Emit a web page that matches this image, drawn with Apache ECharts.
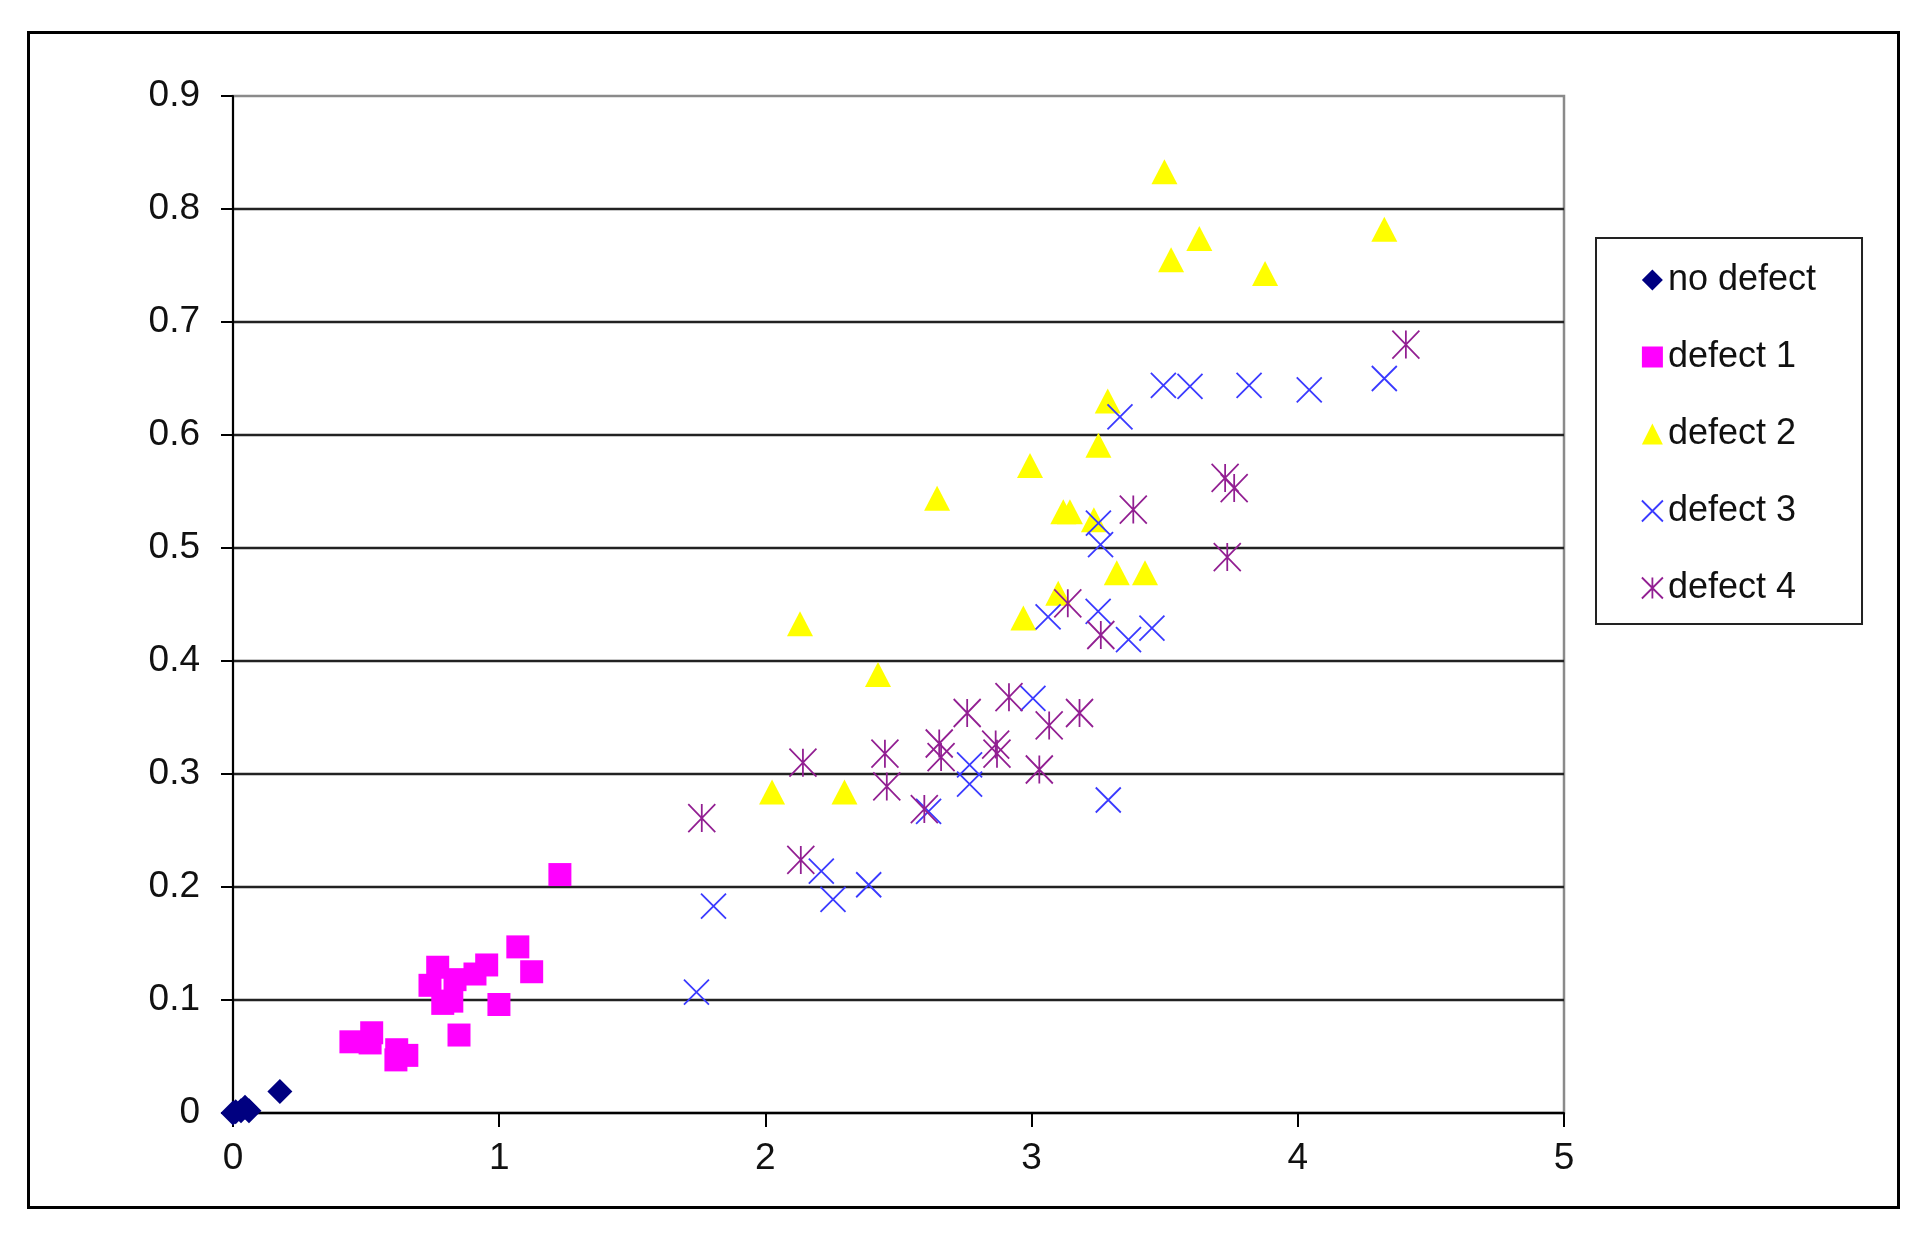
<!DOCTYPE html>
<html>
<head>
<meta charset="utf-8">
<title>defect scatter</title>
<script src="https://cdn.jsdelivr.net/npm/echarts/dist/echarts.min.js"></script>
<style>
    html, body { margin: 0; padding: 0; background: #fff; }
    #chart { width: 1931px; height: 1244px; }
</style>
</head>
<body>
<div id="chart"></div>
<script>
// series names (legend order)
var seriesNames = ["no defect", "defect 1", "defect 2", "defect 3", "defect 4"];

// axis ticks
var xTicks = [0, 1, 2, 3, 4, 5];
var yTicks = [0, 0.1, 0.2, 0.3, 0.4, 0.5, 0.6, 0.7, 0.8, 0.9];

// points, [x, y]
var noDefect = [[0, 0], [0.01, 0.001], [0.03, 0.002], [0.045, 0.005], [0.06, 0.002], [0.176, 0.019]];

var defect1 = [[1.228, 0.211], [1.07, 0.147], [1.122, 0.125], [0.953, 0.131], [0.909, 0.123],
    [0.769, 0.129], [0.74, 0.113], [0.834, 0.118], [0.822, 0.099], [0.788, 0.097],
    [0.999, 0.096], [0.849, 0.069], [0.443, 0.063], [0.521, 0.071], [0.515, 0.062],
    [0.615, 0.056], [0.653, 0.051], [0.612, 0.047]];

var defect2 = [[2.025, 0.284], [2.13, 0.433], [2.297, 0.284], [2.423, 0.388], [2.645, 0.544],
    [2.969, 0.438], [2.994, 0.573], [3.1, 0.46], [3.119, 0.532], [3.144, 0.532],
    [3.234, 0.525], [3.251, 0.591], [3.286, 0.63], [3.32, 0.478], [3.426, 0.478],
    [3.499, 0.833], [3.524, 0.755], [3.63, 0.774], [3.877, 0.743], [4.325, 0.782]];

var defect3 = [[1.741, 0.107], [1.805, 0.183], [2.21, 0.214], [2.254, 0.189], [2.388, 0.202],
    [2.613, 0.267], [2.767, 0.308], [2.767, 0.291], [3.005, 0.367], [3.062, 0.439],
    [3.25, 0.444], [3.251, 0.522], [3.259, 0.503], [3.288, 0.277], [3.332, 0.616],
    [3.364, 0.419], [3.452, 0.429], [3.495, 0.644], [3.595, 0.643], [3.817, 0.644],
    [4.043, 0.64], [4.325, 0.65]];

var defect4 = [[1.761, 0.261], [2.141, 0.31], [2.133, 0.224], [2.449, 0.318], [2.456, 0.289],
    [2.597, 0.269], [2.653, 0.327], [2.66, 0.315], [2.758, 0.354], [2.865, 0.326],
    [2.87, 0.318], [2.915, 0.368], [3.029, 0.304], [3.066, 0.343], [3.136, 0.451],
    [3.18, 0.354], [3.26, 0.423], [3.382, 0.534], [3.727, 0.562], [3.735, 0.492],
    [3.761, 0.553], [4.406, 0.68]];

var FONT = '"Liberation Sans", Arial, sans-serif';
var SYM_X = 'path://M0,0L10,10M10,0L0,10';
var SYM_STAR = 'path://M0,0L10,10M10,0L0,10M5,0L5,10';

var markers = [
    { symbol: 'diamond', size: 25, style: { color: '#000080', opacity: 1 } },
    { symbol: 'rect', size: 23, style: { color: '#ff00ff', opacity: 1 } },
    { symbol: 'triangle', size: [26, 25], style: { color: '#ffff00', opacity: 1 } },
    { symbol: SYM_X, size: 25, style: { color: 'rgba(0,0,0,0)', borderColor: '#3a3aff', borderWidth: 1.8, opacity: 1 } },
    { symbol: SYM_STAR, size: [27, 28], style: { color: 'rgba(0,0,0,0)', borderColor: '#921f92', borderWidth: 1.8, opacity: 1 } }
];

var allData = [noDefect, defect1, defect2, defect3, defect4];

var seriesData = [];
var legendData = [];
for (var i = 0; i < seriesNames.length; i++) {
    seriesData.push({
        name: seriesNames[i],
        type: 'scatter',
        data: allData[i],
        symbol: markers[i].symbol,
        symbolSize: markers[i].size,
        itemStyle: markers[i].style,
        emphasis: { disabled: true },
        animation: false
    });
    legendData.push({
        name: seriesNames[i],
        icon: markers[i].symbol,
        itemStyle: markers[i].style
    });
}

var option = {
    animation: false,
    backgroundColor: '#fff',
    textStyle: { fontFamily: FONT },
    graphic: [{
        type: 'rect',
        shape: { x: 28.5, y: 32.5, width: 1870, height: 1175 },
        style: { fill: 'none', stroke: '#000', lineWidth: 3 },
        silent: true
    }],
    grid: {
        left: 233,
        top: 96,
        right: 367,
        bottom: 131,
        show: true,
        borderColor: '#8a8a8a',
        borderWidth: 2.5,
        containLabel: false
    },
    legend: {
        orient: 'vertical',
        left: 1596,
        top: 238,
        padding: [24, 46, 18, 45],
        borderColor: '#222',
        borderWidth: 2,
        itemWidth: 21,
        itemHeight: 21,
        itemGap: 41,
        selectedMode: false,
        textStyle: { fontFamily: FONT, fontSize: 36, lineHeight: 36, color: '#111' },
        data: legendData
    },
    xAxis: {
        type: 'value',
        min: xTicks[0],
        max: xTicks[xTicks.length - 1],
        interval: 1,
        axisLine: { show: true, onZero: false, lineStyle: { color: '#000', width: 2 } },
        axisTick: { show: true, length: 14, lineStyle: { color: '#000', width: 2 } },
        axisLabel: { margin: 27, fontSize: 37, color: '#111', fontFamily: FONT },
        splitLine: { show: false }
    },
    yAxis: {
        type: 'value',
        min: yTicks[0],
        max: yTicks[yTicks.length - 1],
        interval: 0.1,
        axisLine: { show: true, onZero: false, lineStyle: { color: '#000', width: 2 } },
        axisTick: { show: true, length: 12, lineStyle: { color: '#000', width: 2 } },
        axisLabel: { margin: 33, fontSize: 37, color: '#111', fontFamily: FONT },
        splitLine: { show: true, showMaxLine: false, lineStyle: { color: '#222', width: 2.4 } }
    },
    series: seriesData
};

var dom_chart = echarts.init(document.getElementById('chart'), null, { renderer: 'canvas' });
dom_chart.setOption(option);
</script>
</body>
</html>
